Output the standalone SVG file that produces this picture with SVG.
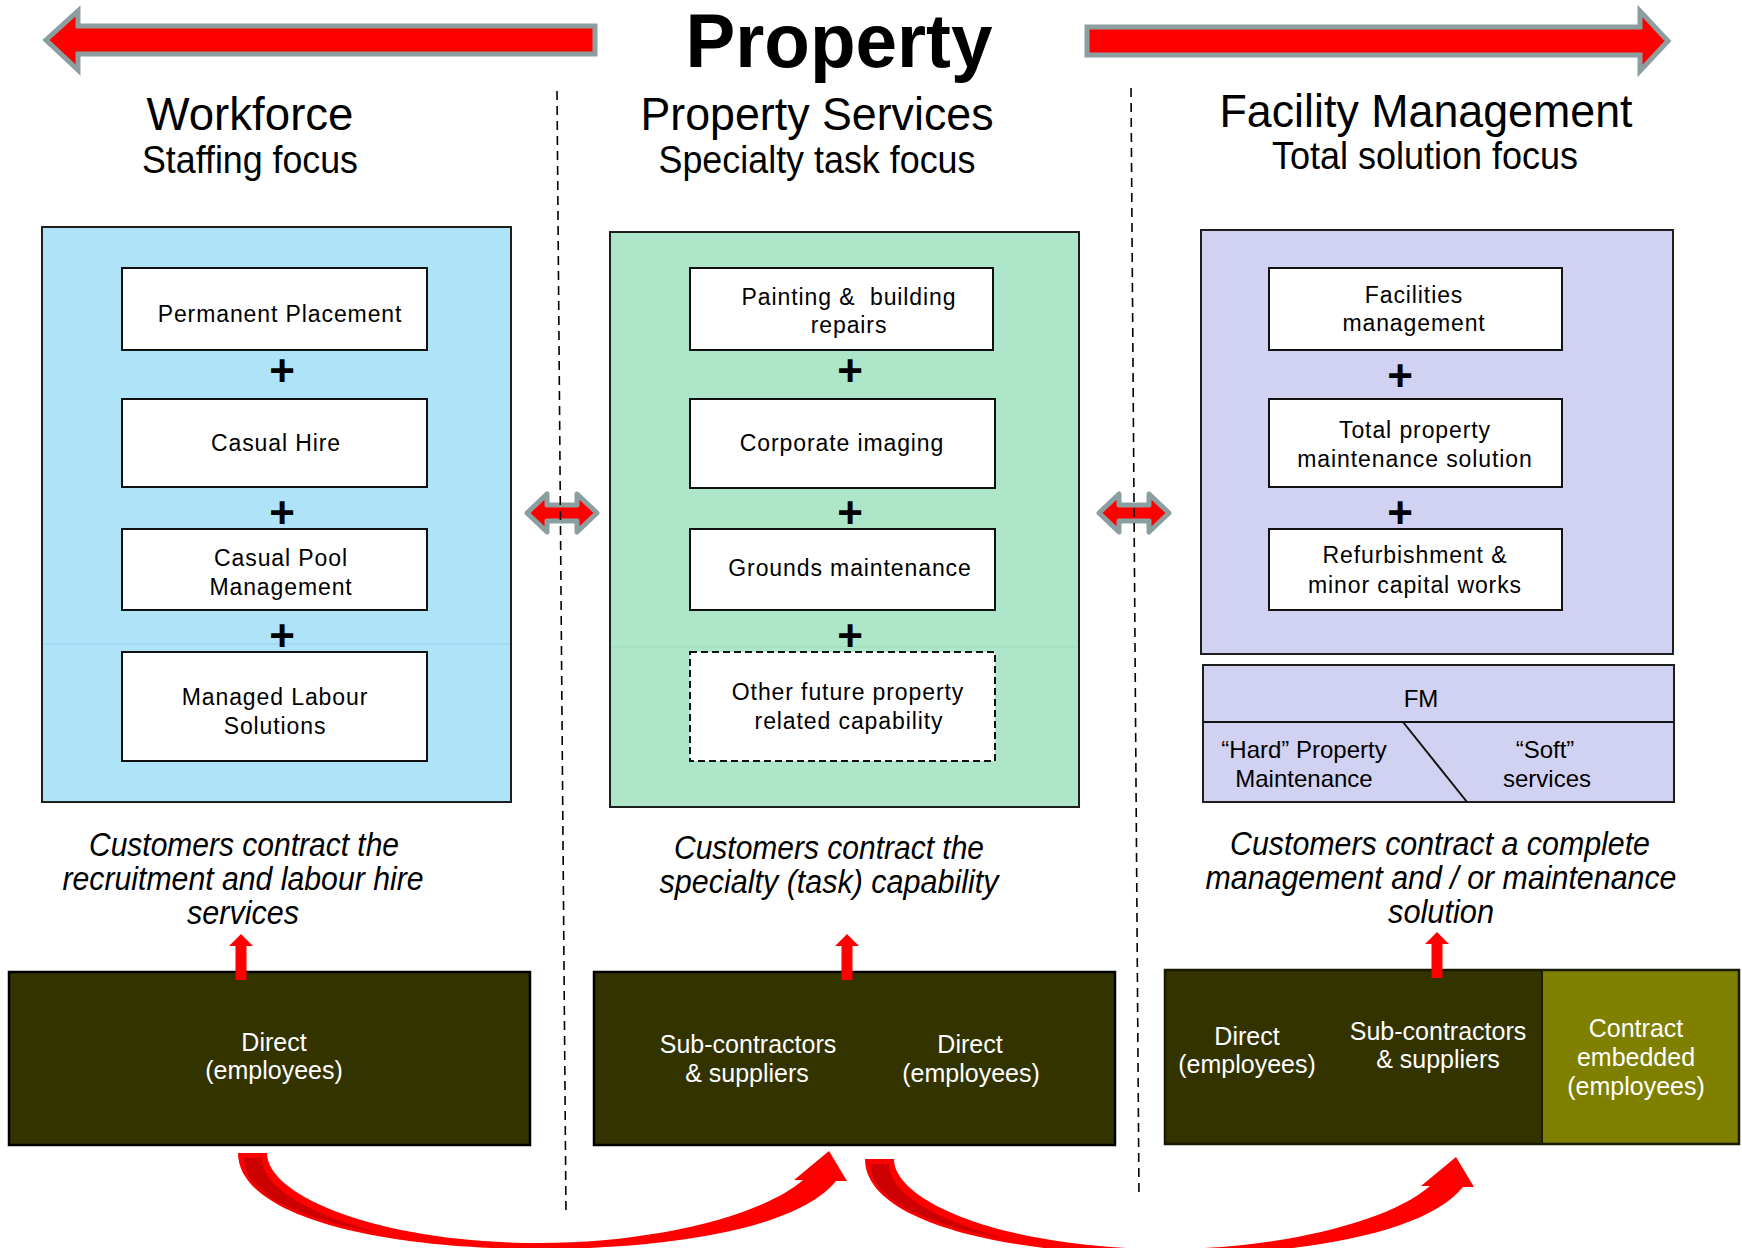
<svg xmlns="http://www.w3.org/2000/svg" width="1742" height="1248" viewBox="0 0 1742 1248">
<style>
  text { font-family: "Liberation Sans", Arial, sans-serif; fill: #000; }
  .title { font-size: 76px; font-weight: bold; text-anchor: middle; }
  .h1 { font-size: 46px; text-anchor: middle; }
  .h2 { font-size: 38px; text-anchor: middle; }
  .panel { stroke: #1e1e1e; stroke-width: 2; }
  .box { fill: #fff; stroke: #111; stroke-width: 2; }
  .dbox { fill: #fff; stroke: #111; stroke-width: 2; stroke-dasharray: 7 4; }
  .bt { font-size: 23px; letter-spacing: 0.9px; text-anchor: middle; }
  .plus { font-size: 44px; font-weight: bold; text-anchor: middle; }
  .it { font-size: 33px; font-style: italic; text-anchor: middle; }
  .wt { font-size: 25px; fill: #fff; text-anchor: middle; }
  .fm { font-size: 24px; text-anchor: middle; }
  .big { fill: #ff0000; stroke: #8b9fa0; stroke-width: 5; stroke-linejoin: miter; }
  .dbl { fill: #ff0000; stroke: #8b9fa0; stroke-width: 5; stroke-linejoin: round; }
  .red { fill: #ff0000; }
  .dash { stroke: #000; stroke-width: 1.6; stroke-dasharray: 9 6; fill: none; }
  .dark { fill: #333300; stroke: #000; stroke-width: 2.5; }
</style>
<defs>
  <path id="curve" d="M238,1153 L267,1153 C267,1197 382,1243 539,1243 C652,1243 762,1216 803,1180 L794,1180 L829,1151 L847,1181 L836,1181 C800,1226 680,1249 539,1249 C378,1249 238,1216 238,1153 Z"/>
  <path id="curveShade" d="M244,1158 L262,1158 C263,1192 318,1216 382,1234 C300,1218 244,1196 244,1158 Z"/>
  <polygon id="up" points="0,-42 12,-30 5.5,-30 5.5,4 -5.5,4 -5.5,-30 -12,-30"/>
</defs>
<rect width="1742" height="1248" fill="#fff"/>

<g id="top-arrows">
  <path class="big" d="M595,26 L595,54 L78,54 L78,70 L46,40 L78,11 L78,26 Z"/>
  <path class="big" d="M1087,27 L1087,55 L1640,55 L1640,71 L1668,41 L1640,11 L1640,27 Z"/>
</g>

<g id="title">
  <text class="title" x="839" y="67" textLength="307" lengthAdjust="spacingAndGlyphs">Property</text>
</g>

<g id="headers">
  <text class="h1" x="250" y="130" textLength="207" lengthAdjust="spacingAndGlyphs">Workforce</text>
  <text class="h2" x="250" y="173" textLength="216" lengthAdjust="spacingAndGlyphs">Staffing focus</text>
  <text class="h1" x="817" y="130" textLength="353" lengthAdjust="spacingAndGlyphs">Property Services</text>
  <text class="h2" x="817" y="173" textLength="317" lengthAdjust="spacingAndGlyphs">Specialty task focus</text>
  <text class="h1" x="1426" y="127" textLength="413" lengthAdjust="spacingAndGlyphs">Facility Management</text>
  <text class="h2" x="1425" y="169" textLength="306" lengthAdjust="spacingAndGlyphs">Total solution focus</text>
</g>

<g id="workforce-panel">
  <rect class="panel" x="42" y="227" width="469" height="575" fill="#afe3f8"/>
  <line x1="43" y1="644" x2="510" y2="644" stroke="#95d2ee" stroke-width="1"/>
  <g id="wf-permanent"><rect class="box" x="122" y="268" width="305" height="82"/><text class="bt" x="280" y="322">Permanent Placement</text></g>
  <text class="plus" x="282" y="386">+</text>
  <g id="wf-casual-hire"><rect class="box" x="122" y="399" width="305" height="88"/><text class="bt" x="276" y="451">Casual Hire</text></g>
  <text class="plus" x="282" y="528">+</text>
  <g id="wf-casual-pool"><rect class="box" x="122" y="529" width="305" height="81"/><text class="bt" x="281" y="566">Casual Pool</text><text class="bt" x="281" y="595">Management</text></g>
  <text class="plus" x="282" y="651">+</text>
  <g id="wf-managed"><rect class="box" x="122" y="652" width="305" height="109"/><text class="bt" x="275" y="705">Managed Labour</text><text class="bt" x="275" y="734">Solutions</text></g>
</g>

<g id="property-panel">
  <rect class="panel" x="610" y="232" width="469" height="575" fill="#aee6c9"/>
  <line x1="611" y1="647" x2="1078" y2="647" stroke="#9ddbbd" stroke-width="1"/>
  <g id="ps-painting"><rect class="box" x="690" y="268" width="303" height="82"/><text class="bt" x="849" y="305" style="white-space:pre">Painting &amp;  building</text><text class="bt" x="849" y="333">repairs</text></g>
  <text class="plus" x="850" y="386">+</text>
  <g id="ps-imaging"><rect class="box" x="690" y="399" width="305" height="89"/><text class="bt" x="842" y="451">Corporate imaging</text></g>
  <text class="plus" x="850" y="528">+</text>
  <g id="ps-grounds"><rect class="box" x="690" y="529" width="305" height="81"/><text class="bt" x="850" y="576">Grounds maintenance</text></g>
  <text class="plus" x="850" y="651">+</text>
  <g id="ps-other"><rect class="dbox" x="690" y="652" width="305" height="109"/><text class="bt" x="848" y="700">Other future property</text><text class="bt" x="849" y="729">related capability</text></g>
</g>

<g id="facility-panel">
  <rect class="panel" x="1201" y="230" width="472" height="424" fill="#d1d1f2"/>
  <g id="fm-facilities"><rect class="box" x="1269" y="268" width="293" height="82"/><text class="bt" x="1414" y="303">Facilities</text><text class="bt" x="1414" y="331">management</text></g>
  <text class="plus" x="1400" y="391">+</text>
  <g id="fm-total"><rect class="box" x="1269" y="399" width="293" height="88"/><text class="bt" x="1415" y="438">Total property</text><text class="bt" x="1415" y="467">maintenance solution</text></g>
  <text class="plus" x="1400" y="528">+</text>
  <g id="fm-refurb"><rect class="box" x="1269" y="529" width="293" height="81"/><text class="bt" x="1415" y="563">Refurbishment &amp;</text><text class="bt" x="1415" y="593">minor capital works</text></g>
</g>

<g id="fm-box">
  <rect class="panel" x="1203" y="665" width="471" height="137" fill="#d1d1f2"/>
  <line x1="1203" y1="722" x2="1674" y2="722" stroke="#111" stroke-width="2"/>
  <line x1="1403" y1="722" x2="1467" y2="802" stroke="#111" stroke-width="2"/>
  <text class="fm" x="1421" y="707">FM</text>
  <text class="fm" x="1304" y="758">“Hard” Property</text>
  <text class="fm" x="1304" y="787">Maintenance</text>
  <text class="fm" x="1545" y="758">“Soft”</text>
  <text class="fm" x="1547" y="787">services</text>
</g>

<g id="captions">
  <text class="it" x="244" y="856" textLength="310" lengthAdjust="spacingAndGlyphs">Customers contract the</text>
  <text class="it" x="243" y="890" textLength="361" lengthAdjust="spacingAndGlyphs">recruitment and labour hire</text>
  <text class="it" x="243" y="924" textLength="112" lengthAdjust="spacingAndGlyphs">services</text>
  <text class="it" x="829" y="859" textLength="310" lengthAdjust="spacingAndGlyphs">Customers contract the</text>
  <text class="it" x="829" y="893" textLength="339" lengthAdjust="spacingAndGlyphs">specialty (task) capability</text>
  <text class="it" x="1440" y="855" textLength="420" lengthAdjust="spacingAndGlyphs">Customers contract a complete</text>
  <text class="it" x="1441" y="889" textLength="471" lengthAdjust="spacingAndGlyphs">management and / or maintenance</text>
  <text class="it" x="1441" y="923" textLength="106" lengthAdjust="spacingAndGlyphs">solution</text>
</g>

<g id="workforce-base">
  <rect class="dark" x="9" y="972" width="521" height="173"/>
  <text class="wt" x="274" y="1051">Direct</text>
  <text class="wt" x="274" y="1079">(employees)</text>
</g>
<g id="property-base">
  <rect class="dark" x="594" y="972" width="521" height="173"/>
  <text class="wt" x="748" y="1053">Sub-contractors</text>
  <text class="wt" x="747" y="1082">&amp; suppliers</text>
  <text class="wt" x="970" y="1053">Direct</text>
  <text class="wt" x="971" y="1082">(employees)</text>
</g>
<g id="facility-base">
  <rect x="1165" y="970" width="377" height="174" fill="#333300"/>
  <rect x="1542" y="970" width="197" height="174" fill="#808000"/>
  <rect x="1165" y="970" width="574" height="174" fill="none" stroke="#1a1a00" stroke-width="2.5"/>
  <line x1="1542" y1="970" x2="1542" y2="1144" stroke="#1a1a00" stroke-width="2"/>
  <text class="wt" x="1247" y="1045">Direct</text>
  <text class="wt" x="1247" y="1073">(employees)</text>
  <text class="wt" x="1438" y="1040">Sub-contractors</text>
  <text class="wt" x="1438" y="1068">&amp; suppliers</text>
  <text class="wt" x="1636" y="1037">Contract</text>
  <text class="wt" x="1636" y="1066">embedded</text>
  <text class="wt" x="1636" y="1095">(employees)</text>
</g>

<g id="connectors">
  <path class="dbl" d="M527,513 L547,494 L547,505 L577,505 L577,494 L597,513 L577,532 L577,521 L547,521 L547,532 Z"/>
  <path class="dbl" d="M1099,513 L1119,494 L1119,505 L1149,505 L1149,494 L1169,513 L1149,532 L1149,521 L1119,521 L1119,532 Z"/>
  <use href="#up" x="241" y="976" class="red"/>
  <use href="#up" x="847" y="976" class="red"/>
  <use href="#up" x="1437" y="974" class="red"/>
  <use href="#curve" class="red"/>
  <use href="#curveShade" fill="#cc0000"/>
  <use href="#curve" class="red" transform="translate(627,6)"/>
  <use href="#curveShade" fill="#cc0000" transform="translate(627,6)"/>
</g>

<g id="dividers">
  <line class="dash" x1="557" y1="91" x2="566" y2="1215"/>
  <line class="dash" x1="1131" y1="88" x2="1139" y2="1198"/>
</g>
</svg>
